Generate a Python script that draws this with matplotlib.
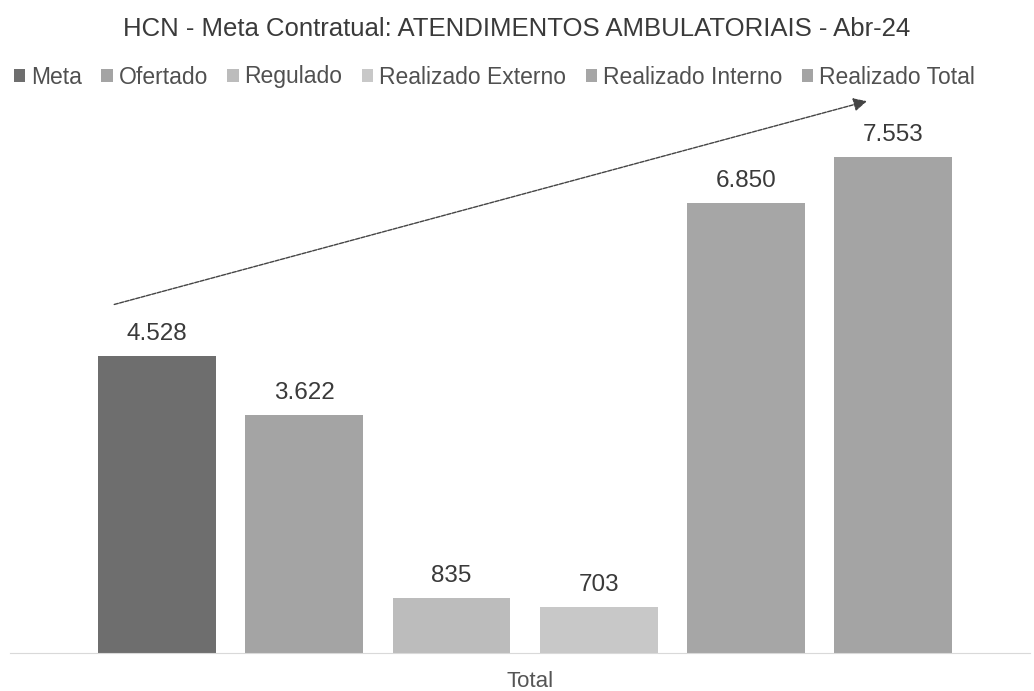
import matplotlib
matplotlib.use("Agg")
from matplotlib import pyplot as plt
from matplotlib.patches import Patch
import numpy as np

plt.rcParams['font.family'] = ['Liberation Sans', 'DejaVu Sans']

title = "HCN - Meta Contratual: ATENDIMENTOS AMBULATORIAIS - Abr-24"
series = ["Meta", "Ofertado", "Regulado", "Realizado Externo", "Realizado Interno", "Realizado Total"]
values = [4528, 3622, 835, 703, 6850, 7553]
labels = ["4.528", "3.622", "835", "703", "6.850", "7.553"]
colors = ["#6e6e6e", "#a4a4a4", "#bcbcbc", "#c8c8c8", "#a6a6a6", "#a4a4a4"]
category = "Total"

fig = plt.figure(figsize=(10.34, 6.91), dpi=100)
ax = fig.add_axes([10/1034, 38/691, 1020/1034, 525/691])

x = np.arange(len(values))
bars = ax.bar(x, values, width=0.8, color=colors)
for b, lab in zip(bars, labels):
    ax.text(b.get_x() + b.get_width()/2, b.get_height() + 340, lab,
            ha='center', va='center', fontsize=17.5, color='#3a3a3a')

ax.set_xlim(-1.0, 5.93)
ax.set_ylim(0, 8000)
ax.set_yticks([])
ax.set_xticks([2.53])
ax.set_xticklabels([category], fontsize=16, color='#555555')
ax.tick_params(axis='x', length=0, pad=13)
for s in ['top', 'left', 'right']:
    ax.spines[s].set_visible(False)
ax.spines['bottom'].set_color('#d9d9d9')

# linha de tendencia
ax.annotate("", xy=(4.84, 8420), xytext=(-0.31, 5300),
            arrowprops=dict(arrowstyle='-|>', color='#444444', lw=1.0,
                            linestyle=(0, (3, 1)), mutation_scale=20),
            annotation_clip=False)

fig.text(0.5, 1 - 29/691, title, ha='center', va='center', fontsize=18.5, color='#3a3a3a')
handles = [Patch(facecolor=c, edgecolor='none') for c in colors]
fig.legend(handles, series, loc='center', bbox_to_anchor=(0.478, 1 - 77/691), ncol=6,
           frameon=False, fontsize=16.5, handlelength=0.5, handleheight=0.5,
           handletextpad=0.25, columnspacing=0.85, labelcolor='#505050')

fig.savefig("out.png", dpi=100)
